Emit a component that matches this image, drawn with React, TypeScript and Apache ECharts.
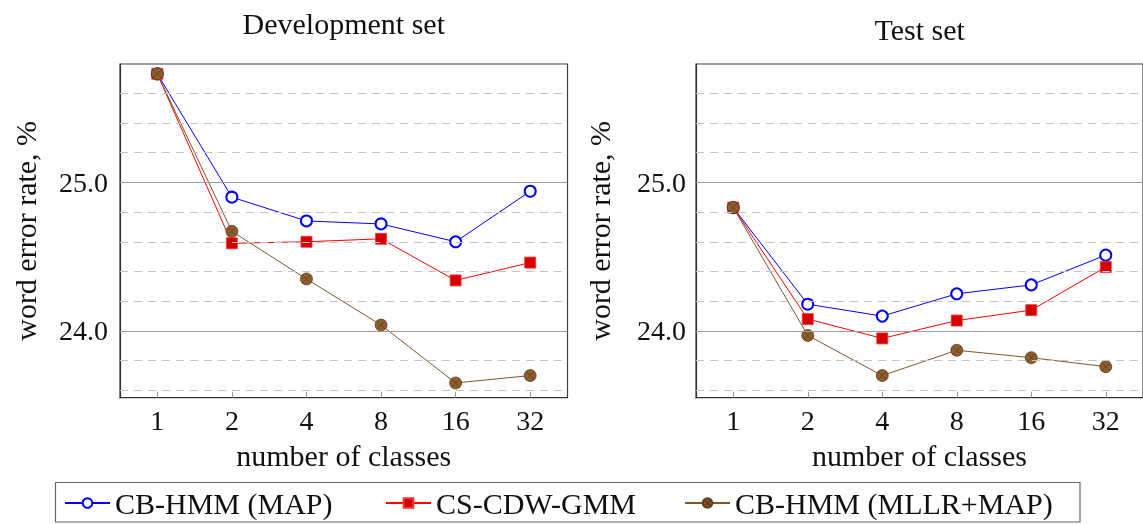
import React, { useEffect, useRef } from "react";
import * as echarts from "echarts";

const xLabels = ["1", "2", "4", "8", "16", "32"];
const seriesNames = ["CB-HMM (MAP)", "CS-CDW-GMM", "CB-HMM (MLLR+MAP)"];
const devMAP = [25.73, 24.9, 24.74, 24.72, 24.6, 24.94];
const devCDW = [25.73, 24.59, 24.6, 24.62, 24.34, 24.46];
const devMLLR = [25.73, 24.67, 24.35, 24.04, 23.65, 23.7];
const testMAP = [24.83, 24.18, 24.1, 24.25, 24.31, 24.51];
const testCDW = [24.83, 24.08, 23.95, 24.07, 24.14, 24.43];
const testMLLR = [24.83, 23.97, 23.7, 23.87, 23.82, 23.76];
const majorTicks = [24, 25];
const minorTicks = [23.6, 23.8, 24.2, 24.4, 24.6, 24.8, 25.2, 25.4, 25.6];
const yMin = 23.551;
const yMax = 25.796;
const titles = ["Development set", "Test set"];

const FONT = "'Liberation Serif', 'DejaVu Serif', serif";
const OTIMES =
  "path://M0,6A6,6,0,1,1,12,6A6,6,0,1,1,0,6ZM1.76,1.76L10.24,10.24M10.24,1.76L1.76,10.24";

const styles = [
  {
    symbol: "emptyCircle",
    symbolSize: 11,
    lineStyle: { color: "#0000ff", width: 1 },
    itemStyle: { color: "#0000ff", borderColor: "#0000ff", borderWidth: 1.2 },
  },
  {
    symbol: "rect",
    symbolSize: 11,
    lineStyle: { color: "#ff0000", width: 1 },
    itemStyle: { color: "#d20000", borderColor: "#ff3030", borderWidth: 0.8 },
  },
  {
    symbol: OTIMES,
    symbolSize: 12,
    lineStyle: { color: "#80552b", width: 1 },
    itemStyle: { color: "#8f5e2e", borderColor: "#5e3c1c", borderWidth: 0.8 },
  },
];

export default function App() {
  const ref = useRef<HTMLDivElement>(null);
  useEffect(() => {
    if (!ref.current) return;
    const chart = echarts.init(ref.current, null, { renderer: "svg" });
    const grids = [
      { left: 120, top: 64, width: 447.5, height: 333.7 },
      { left: 696, top: 64, width: 447.5, height: 333.7 },
    ];
    const dataSets = [
      [devMAP, devCDW, devMLLR],
      [testMAP, testCDW, testMLLR],
    ];
    const gridMarkLines = [
      ...minorTicks.map((v) => ({
        yAxis: v,
        lineStyle: { color: "#c4c4c4", type: [8, 6], width: 1 },
      })),
      ...majorTicks.map((v) => ({
        yAxis: v,
        lineStyle: { color: "#9a9a9a", type: "solid", width: 1 },
      })),
    ];
    const series: any[] = [];
    [0, 1].forEach((g) => {
      series.push({
        type: "line",
        xAxisIndex: g,
        yAxisIndex: g,
        data: [],
        z: 1,
        silent: true,
        markLine: {
          silent: true,
          symbol: ["none", "none"],
          label: { show: false },
          data: gridMarkLines,
        },
      });
      dataSets[g].forEach((d, i) => {
        series.push({
          type: "line",
          name: seriesNames[i],
          xAxisIndex: g,
          yAxisIndex: g,
          data: d,
          z: 3,
          ...styles[i],
        });
      });
    });
    const legendLefts = [64, 385, 684];
    chart.setOption({
      animation: false,
      grid: grids.map((g) => ({
        ...g,
        show: true,
        borderColor: "#404040",
        borderWidth: 1.2,
        backgroundColor: "transparent",
      })),
      xAxis: [0, 1].map((g) => ({
        type: "category",
        gridIndex: g,
        data: xLabels,
        boundaryGap: true,
        axisLine: { show: true, lineStyle: { color: "#303030", width: 1.2 } },
        axisTick: {
          show: true,
          alignWithLabel: true,
          inside: true,
          length: 6,
          lineStyle: { color: "#999" },
        },
        axisLabel: {
          fontFamily: FONT,
          fontSize: 28,
          color: "#111",
          margin: 9,
        },
        splitLine: { show: false },
        name: "number of classes",
        nameLocation: "middle",
        nameGap: 43,
        nameTextStyle: { fontFamily: FONT, fontSize: 30, color: "#111" },
      })),
      yAxis: [0, 1].map((g) => ({
        type: "value",
        gridIndex: g,
        min: yMin,
        max: yMax,
        axisLine: { show: true, lineStyle: { color: "#303030", width: 1.2 } },
        axisTick: {
          show: true,
          inside: true,
          length: 4,
          customValues: [...minorTicks, ...majorTicks],
          lineStyle: { color: "#555" },
        },
        axisLabel: {
          customValues: majorTicks,
          formatter: (v: number) => v.toFixed(1),
          fontFamily: FONT,
          fontSize: 28,
          color: "#111",
          margin: g === 0 ? 12 : 10,
        },
        splitLine: { show: false },
        name: "word error rate, %",
        nameLocation: "middle",
        nameGap: g === 0 ? 80 : 82,
        nameTextStyle: { fontFamily: FONT, fontSize: 30, color: "#111" },
      })),
      legend: seriesNames.map((n, i) => ({
        data: [n],
        left: legendLefts[i],
        top: 488,
        padding: 0,
        itemWidth: 45,
        itemHeight: 12,
        itemGap: 0,
        textStyle: { fontFamily: FONT, fontSize: 30, color: "#111" },
        selectedMode: false,
      })),
      graphic: [
        {
          type: "rect",
          shape: { x: 55.5, y: 482.5, width: 1024.5, height: 39.5 },
          style: { fill: "none", stroke: "#666", lineWidth: 1.2 },
          silent: true,
        },
        ...titles.map((t, i) => ({
          type: "text",
          x: grids[i].left + grids[i].width / 2,
          y: i === 0 ? 23 : 29,
          style: {
            text: t,
            font: `30px ${FONT}`,
            fill: "#111",
            textAlign: "center",
            textVerticalAlign: "middle",
          },
        })),
      ],
      series,
    });
    return () => chart.dispose();
  }, []);
  return (
    <div
      ref={ref}
      style={{ position: "fixed", left: 0, top: 0, width: 1143, height: 524 }}
    />
  );
}
